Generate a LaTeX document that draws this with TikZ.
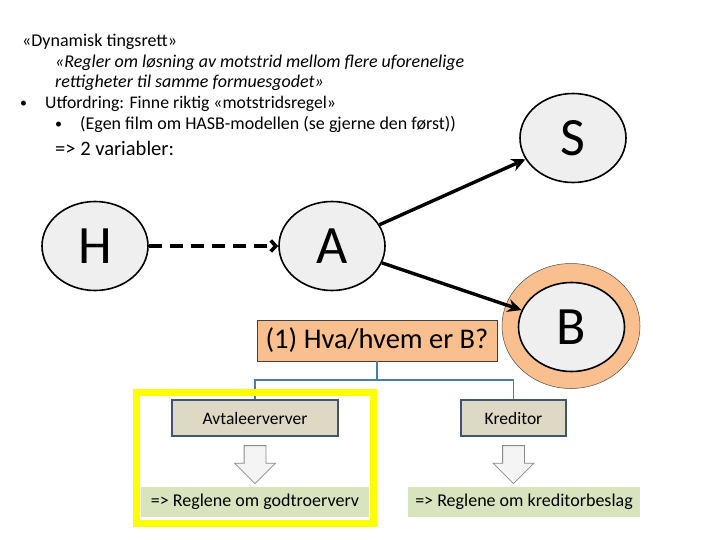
\documentclass[tikz,border=0pt]{standalone}
\usepackage{fontspec}
\setmainfont{Carlito}
\usetikzlibrary{arrows.meta,positioning,shapes.geometric,shapes.arrows,fit}
\definecolor{cNode}{HTML}{EFEFEF}
\definecolor{cPeach}{HTML}{F9BF8F}
\definecolor{cTree}{HTML}{4A7DAE}
\definecolor{cFrame}{HTML}{3F5672}
\definecolor{cBeige}{HTML}{DDD9C4}
\definecolor{cOlive}{HTML}{D7E4BD}
\definecolor{cMark}{HTML}{FFFF00}
\definecolor{cArrGray}{HTML}{8A8A8A}
\definecolor{cArrFill}{HTML}{F4F4F4}
\tikzset{
  txt/.style     = {anchor=base west, inner sep=0pt, font=\fontsize{18}{22}\selectfont},
  dot/.style     = {anchor=base west, inner sep=0pt, font=\fontsize{14}{14}\selectfont},
  party/.style   = {ellipse, draw=black, fill=cNode, line width=1.6pt, inner sep=0pt,
                    minimum width=106pt, minimum height=89pt, font=\fontsize{54}{54}\selectfont},
  ring/.style    = {ellipse, draw=black!70, fill=cPeach, line width=0.5pt,
                    minimum width=138pt, minimum height=125pt},
  quest/.style   = {rectangle, draw=black!75, fill=cPeach, line width=0.8pt,
                    minimum width=240pt, minimum height=41pt, font=\fontsize{28.5}{28.5}\selectfont},
  kind/.style    = {rectangle, draw=cFrame, fill=cBeige, line width=2.4pt,
                    minimum height=36pt, font=\fontsize{17.5}{17.5}\selectfont},
  rulebox/.style = {rectangle, fill=cOlive, minimum height=30pt, inner xsep=6pt,
                    font=\fontsize{18}{18}\selectfont},
  downarr/.style = {single arrow, shape border rotate=270, draw=cArrGray, fill=cArrFill,
                    line width=0.8pt, inner sep=10.5pt, single arrow head extend=9.5pt,
                    minimum height=38pt},
  hilite/.style  = {rectangle, draw=cMark, line width=7pt, inner xsep=4pt, inner ysep=6pt},
  fl/.style      = {-{Stealth[length=14pt,width=13pt]}, line width=3.4pt},
  fld/.style     = {-{Straight Barb[length=5pt,width=11pt]}, line width=3.6pt,
                    dash pattern=on 13pt off 8pt},
  tree/.style    = {draw=cTree, line width=1.4pt},
}
\begin{document}
\begin{tikzpicture}[x=1pt, y=-1pt, node distance=8pt]
  \useasboundingbox (0,0) rectangle (720,540);
  % intro text
  \node[txt] (t1) at (22,47) {«Dynamisk tingsrett»};
  \node[txt, font=\fontsize{18}{22}\selectfont\itshape] (t2) at (55,68)
    {«Regler om løsning av motstrid mellom flere uforenelige};
  \node[txt, font=\fontsize{18}{22}\selectfont\itshape] (t3) at (55,88)
    {rettigheter til samme formuesgodet»};
  \node[dot] (b1) at (20,108) {•};
  \node[txt, font=\fontsize{17.7}{22}\selectfont] (t4) at (45,109) {Utfordring: Finne riktig «motstridsregel»};
  \node[dot] (b2) at (55,129) {•};
  \node[txt] (t5) at (80,130) {(Egen film om HASB-modellen (se gjerne den først))};
  \node[txt, font=\fontsize{20.5}{24}\selectfont] (t6) at (55,156) {=> 2 variabler:};

  % H, A, S, B
  \node[party] (H) at (95,246) {H};
  \node[party] (A) at (332,246) {A};
  \node[party] (S) at (573,138) {S};
  \node[ring] (Bring) at (571,326) {};
  \node[party] (B) at (571.5,327) {B};

  \draw[fld] (H) -- (A);
  \draw[fl] (A) -- (S);
  \draw[fl] (A) -- (B);

  % question tree
  \node[quest] (q) at (377,340.5) {(1) Hva/hvem er B?};
  \node[kind, minimum width=166pt] (av) at (255,418) {Avtaleerverver};
  \node[kind, minimum width=105pt] (kr) at (513.5,418) {Kreditor};
  \coordinate (fork) at (377,380);
  \draw[tree] (q.south) -- (fork) -| (av.north);
  \draw[tree] (fork) -| (kr.north);

  \node[downarr, below=of av] (avArr) {};
  \node[downarr, below=of kr] (krArr) {};
  \node[rulebox, minimum width=228pt] (avRule) at (255,502) {=> Reglene om godtroerverv};
  \node[rulebox, minimum width=232pt] (krRule) at (524,502) {=> Reglene om kreditorbeslag};

  \node[hilite, fit=(av)(avRule)] (pick) {};
\end{tikzpicture}
\end{document}
